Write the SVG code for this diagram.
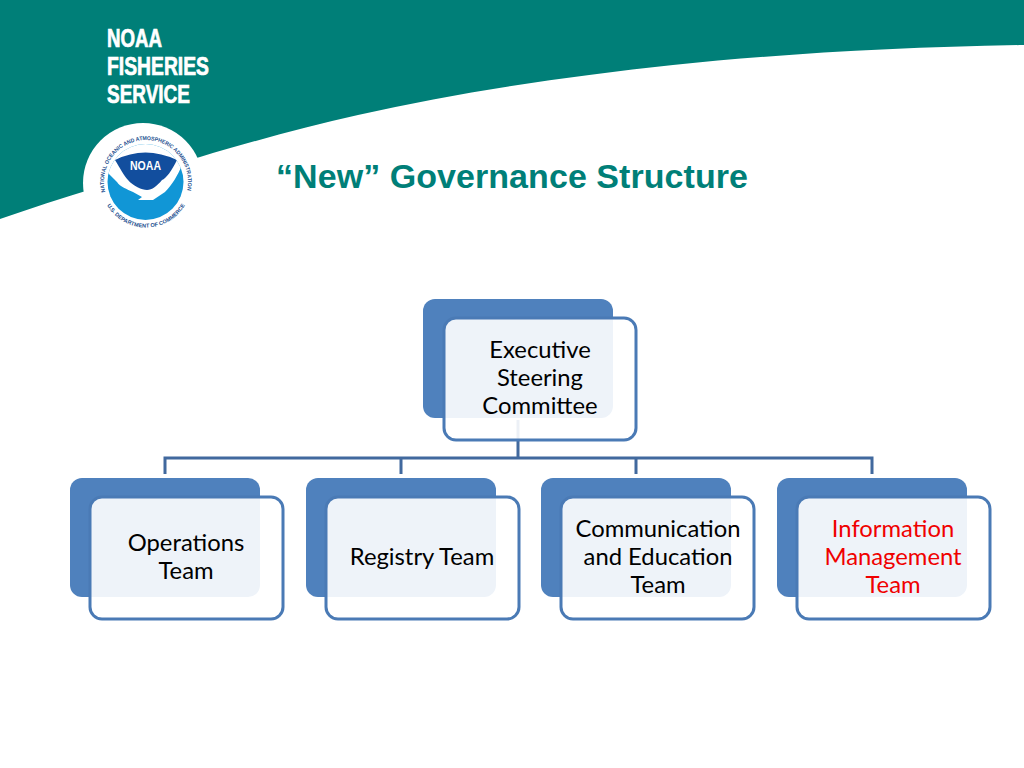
<svg xmlns="http://www.w3.org/2000/svg" width="1024" height="768" viewBox="0 0 1024 768">
<style>
.back{fill:#4F81BD}
.front{fill:#fff;fill-opacity:.9;stroke:#4A7AB5;stroke-width:3}
.lbl{font-family:Lato,"Liberation Sans",sans-serif;font-size:23.8px;fill:#000;text-anchor:middle}
.red{fill:#f00000}
.conn{fill:none;stroke:#41699E;stroke-width:3}
.brand{font-family:"Liberation Sans",sans-serif;font-weight:700;font-size:25px;fill:#fff;stroke:#fff;stroke-width:.7}
.ring{font-family:"Liberation Sans",sans-serif;font-size:5.5px;fill:#1d4f8f;font-weight:700}
</style>
<defs>
<path id="ringTop" d="M105.200,192 A42,42 0 1 1 186.800,192"/>
<path id="ringBot" d="M107,205 A45,45 0 0 0 185,205"/>
<clipPath id="disc"><circle cx="145.500" cy="182" r="38"/></clipPath>
</defs>
<rect width="1024" height="768" fill="#fff"/>
<g id="banner">
<path d="M0,0H1024V45C900,47 780,54 673,65C570,76 460,92 358,115C305,127 250,142 200,157C130,177 60,198 0,219Z" fill="#007F78"/>
</g>
<g id="logo">
<circle cx="143" cy="183" r="60" fill="#fff"/>
<g clip-path="url(#disc)">
<rect x="105" y="140" width="82" height="84" fill="#1196D6"/>
<path d="M100,140H192V164L182,165C178,175 172,185 165,192L153,200L138,200L142,197L133,192C127,189 120,187 117,182L108,173L100,172Z" fill="#fff"/>
<path d="M115,160Q145,145 177,160C172,170 166,179 162,180C157,186 152,190 147,190C142,190 133,186 128,180C124,176 120,168 115,160Z" fill="#124E9E"/>
</g>
<text x="145.500" y="170" text-anchor="middle" font-family="Liberation Sans,sans-serif" font-weight="700" font-size="13" fill="#fff" textLength="31" lengthAdjust="spacingAndGlyphs">NOAA</text>
<text class="ring"><textPath href="#ringTop" textLength="150" lengthAdjust="spacingAndGlyphs">NATIONAL OCEANIC AND ATMOSPHERIC ADMINISTRATION</textPath></text>
<text class="ring" text-anchor="middle"><textPath href="#ringBot" startOffset="50%">U.S. DEPARTMENT OF COMMERCE</textPath></text>
</g>
<g id="brand">
<text class="brand" x="107" y="47" textLength="55" lengthAdjust="spacingAndGlyphs">NOAA</text>
<text class="brand" x="107" y="75" textLength="102" lengthAdjust="spacingAndGlyphs">FISHERIES</text>
<text class="brand" x="107" y="103" textLength="83" lengthAdjust="spacingAndGlyphs">SERVICE</text>
</g>
<text id="title" x="276" y="187.500" font-family="Liberation Sans,sans-serif" font-weight="700" font-size="34" fill="#007F78" textLength="472">“New” Governance Structure</text>
<g id="connectors">
<path class="conn" d="M518,420V458M165,474V458H872V474M401,458V474M636,458V474"/>
</g>
<g id="executive">
<rect class="back" x="423" y="299" width="190" height="119" rx="12"/>
<rect class="front" x="444" y="318" width="192" height="122" rx="12"/>
<text class="lbl" x="540" y="358">Executive</text>
<text class="lbl" x="540" y="386">Steering</text>
<text class="lbl" x="540" y="414">Committee</text>
</g>
<g id="operations">
<rect class="back" x="70" y="478" width="190" height="119" rx="12"/>
<rect class="front" x="90" y="497" width="193" height="122" rx="12"/>
<text class="lbl" x="186" y="551">Operations</text>
<text class="lbl" x="186" y="579">Team</text>
</g>
<g id="registry">
<rect class="back" x="306" y="478" width="190" height="119" rx="12"/>
<rect class="front" x="326" y="497" width="193" height="122" rx="12"/>
<text class="lbl" x="422" y="565">Registry Team</text>
</g>
<g id="communication">
<rect class="back" x="541" y="478" width="190" height="119" rx="12"/>
<rect class="front" x="561" y="497" width="193" height="122" rx="12"/>
<text class="lbl" x="658" y="537">Communication</text>
<text class="lbl" x="658" y="565">and Education</text>
<text class="lbl" x="658" y="593">Team</text>
</g>
<g id="information">
<rect class="back" x="777" y="478" width="190" height="119" rx="12"/>
<rect class="front" x="797" y="497" width="193" height="122" rx="12"/>
<text class="lbl red" x="893" y="537">Information</text>
<text class="lbl red" x="893" y="565">Management</text>
<text class="lbl red" x="893" y="593">Team</text>
</g>
</svg>
